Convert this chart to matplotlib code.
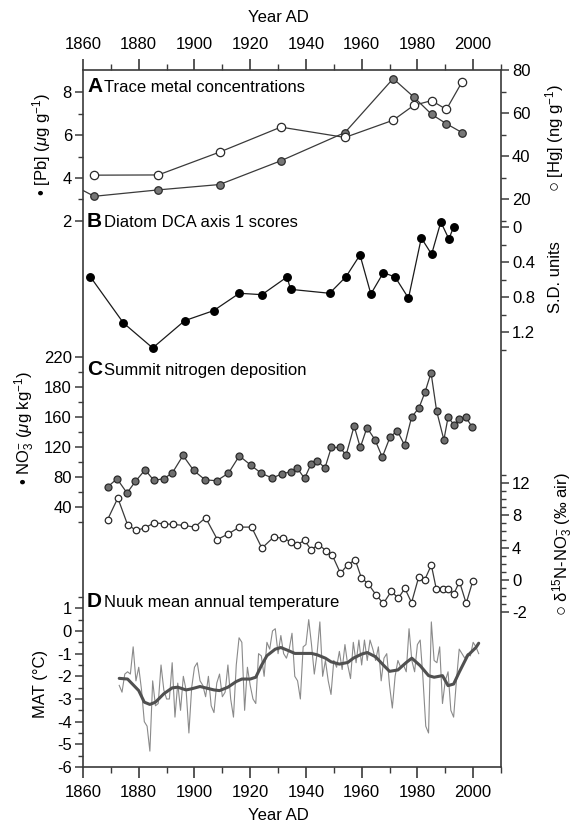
import numpy as np
import matplotlib
matplotlib.use('Agg')
import matplotlib.pyplot as plt

plt.rcParams['font.family'] = ['Liberation Sans', 'DejaVu Sans']
plt.rcParams['mathtext.fontset'] = 'custom'
plt.rcParams['mathtext.rm'] = 'Liberation Sans'
plt.rcParams['mathtext.it'] = 'Liberation Sans:italic'
plt.rcParams['mathtext.bf'] = 'Liberation Sans:bold'

# A: trace metals
pb_years = [1857, 1864, 1887, 1909, 1931, 1954, 1971.3, 1978.7, 1985.1, 1990.4, 1996]
pb_vals = [3.62, 3.14, 3.44, 3.69, 4.80, 6.12, 8.64, 7.78, 6.97, 6.53, 6.12]
hg_years = [1864, 1887, 1909, 1931, 1954, 1971.3, 1978.7, 1985.1, 1990.4, 1996]
hg_vals = [31.2, 31.3, 41.9, 53.5, 48.7, 56.7, 63.6, 65.8, 61.7, 74.4]

# B: diatom DCA axis 1
dca_years = [1862.6, 1874.5, 1885.0, 1896.5, 1906.9, 1916.1, 1924.2, 1933.2, 1934.5,
             1948.5, 1954.4, 1959.4, 1963.3, 1967.8, 1972.0, 1976.8, 1981.4, 1985.1,
             1988.4, 1991.3, 1993.0]
dca_vals = [0.564, 1.093, 1.379, 1.067, 0.952, 0.754, 0.770, 0.568, 0.709,
            0.754, 0.564, 0.316, 0.762, 0.518, 0.568, 0.810, 0.122, 0.308,
            -0.061, 0.134, -0.005]

# C: Summit nitrate and d15N
no3_years = [1868.8, 1872.2, 1875.8, 1878.8, 1882.3, 1885.4, 1888.9, 1892.0, 1895.9, 1899.7,
             1903.8, 1908.0, 1912.2, 1916.1, 1920.2, 1923.9, 1927.9, 1931.4, 1934.5, 1936.9,
             1939.5, 1941.8, 1944.1, 1946.8, 1949.1, 1952.3, 1954.4, 1957.3, 1959.5, 1961.9,
             1964.8, 1967.4, 1970.2, 1972.8, 1975.4, 1977.9, 1980.6, 1982.7, 1984.9, 1986.9,
             1989.5, 1991.0, 1993.2, 1995.0, 1997.4, 1999.7]
no3_vals = [66.7, 77.8, 58.7, 74.2, 89.8, 75.6, 77.8, 85.3, 108.9, 88.9,
            76.4, 75.1, 85.3, 108.4, 96.0, 85.3, 78.7, 84.4, 87.1, 92.0,
            78.2, 97.3, 102.2, 92.0, 119.6, 119.6, 109.3, 148.4, 119.6, 146.2,
            129.8, 106.7, 133.8, 141.8, 122.7, 160.0, 172.9, 193.3, 219.6, 168.4,
            129.8, 160.0, 149.8, 157.3, 160.0, 146.7]

d15n_years = [1868.8, 1872.5, 1876.0, 1879.1, 1882.3, 1885.6, 1888.9, 1892.2, 1896.2, 1900.1,
              1904.0, 1908.2, 1912.2, 1916.1, 1920.5, 1924.2, 1928.4, 1931.6, 1934.5, 1936.9,
              1939.5, 1941.9, 1944.4, 1947.2, 1949.4, 1952.4, 1955.0, 1957.7, 1959.9, 1962.3,
              1965.2, 1967.8, 1970.7, 1973.1, 1975.5, 1977.9, 1980.5, 1982.6, 1985.0, 1986.8,
              1989.2, 1991.0, 1993.1, 1995.1, 1997.5, 1999.9]
d15n_vals = [7.44, 10.12, 6.82, 6.12, 6.45, 7.07, 6.94, 6.86, 6.74, 6.53,
             7.69, 5.00, 5.70, 6.53, 6.53, 3.93, 5.29, 5.17, 4.75, 4.38,
             4.88, 3.72, 4.38, 3.64, 3.10, 0.83, 1.90, 2.48, 0.25, -0.45,
             -1.86, -2.89, -1.36, -2.27, -1.03, -2.80, 0.40, 0.00, 1.85, -1.15,
             -1.15, -1.15, -1.70, -0.20, -2.88, -0.10]

# D: Nuuk mean annual temperature
mat_years = list(range(1873, 2003))
mat_vals = [-2.4, -2.7, -1.9, -1.8, -1.9, -0.7, -2.2, -1.6, -2.6, -4.0,
            -4.2, -5.3, -2.2, -3.3, -3.2, -1.5, -2.6, -3.0, -3.0, -1.4,
            -3.8, -2.3, -3.5, -2.0, -2.6, -4.5, -2.5, -1.6, -1.4, -2.2,
            -2.4, -2.9, -2.0, -3.3, -3.6, -2.3, -1.9, -2.9, -2.7, -1.5,
            -3.0, -3.8, -1.5, -0.3, -0.5, -3.5, -1.6, -2.4, -3.0, -3.2,
            -1.0, -1.1, -2.0, -0.5, -0.8, 0.0, 0.1, -1.0, -0.2, -1.0,
            -1.2, -0.8, -0.1, -2.0, -2.2, -3.0, -0.7, -0.6, 0.5, -0.6,
            -1.9, -1.0, 0.4, -2.0, -1.3, -2.2, -2.8, -1.3, -1.6, -0.9,
            -1.7, -0.6, -1.5, -2.1, -0.5, -1.4, -0.4, -1.5, -0.4, -1.3,
            -0.4, -0.8, -1.3, -0.7, -2.2, -1.2, -1.0, -2.4, -3.4, -2.0,
            -1.3, -1.6, -1.5, -1.8, 0.1, -1.3, -1.8, -0.6, -0.4, -2.1,
            -4.2, -4.5, 0.4, -1.3, -1.4, -0.7, -3.2, -2.2, -1.8, -3.5,
            -3.8, -2.2, -0.8, -1.0, -1.2, -1.0, -1.1, -0.5, -0.7, -1.0]
smooth_years = [1873, 1876, 1880, 1882, 1884, 1886, 1889, 1892, 1894, 1897, 1899, 1902,
                1904, 1907, 1909, 1912, 1915, 1917, 1920, 1922, 1924, 1926, 1929, 1931,
                1934, 1936, 1939, 1942, 1944, 1947, 1949, 1952, 1955, 1957, 1960, 1962,
                1965, 1968, 1970, 1973, 1976, 1978, 1981, 1984, 1986, 1989, 1991, 1993,
                1995, 1998, 2001, 2002]
smooth_vals = [-2.09, -2.12, -2.63, -3.14, -3.24, -3.14, -2.77, -2.51, -2.48, -2.60, -2.55, -2.45,
               -2.51, -2.60, -2.63, -2.48, -2.23, -2.12, -2.12, -2.04, -1.53, -1.09, -0.80, -0.73,
               -0.88, -0.99, -0.99, -0.99, -1.05, -1.20, -1.36, -1.46, -1.39, -1.20, -1.02, -0.95,
               -1.14, -1.53, -1.78, -1.72, -1.39, -1.20, -1.53, -1.97, -2.04, -1.97, -2.41, -2.34,
               -1.82, -1.09, -0.73, -0.54]

W, H = 575, 825
AX_L, AX_R, AX_T, AX_B = 83, 501, 70, 767
EDGE = '#3a3a3a'

fig = plt.figure(figsize=(W / 100, H / 100), dpi=100)
ax = fig.add_axes([AX_L / W, 1 - AX_B / H, (AX_R - AX_L) / W, (AX_B - AX_T) / H])
ax.set_xlim(1860, 2010)
ax.set_ylim(0, 1)
ax.set_yticks([])
ax.set_xticks(np.arange(1860, 2001, 20))
ax.set_xticks(np.arange(1870, 2011, 10), minor=True)
ax.tick_params(axis='x', which='both', top=True, labeltop=True, direction='out',
               color=EDGE, labelsize=12, pad=5)
ax.tick_params(axis='x', which='major', length=8, width=1.2)
ax.tick_params(axis='x', which='minor', length=4, width=1.0)
for s in ax.spines.values():
    s.set_color(EDGE)
    s.set_linewidth(1.2)


def scale_axis(v0, y0, k, side, invert=False):
    # value v0 sits on pixel row y0, k pixels per unit
    tw = ax.twinx()
    sign = -1 if invert else 1
    top = v0 + sign * (y0 - AX_T) / k
    bot = v0 - sign * (AX_B - y0) / k
    tw.set_ylim(bot, top)
    if side == 'left':
        tw.yaxis.tick_left()
    for s in tw.spines.values():
        s.set_visible(False)
    tw.tick_params(axis='y', which='both', direction='out', color=EDGE, labelsize=12, pad=2)
    tw.tick_params(axis='y', which='major', length=6, width=1.1)
    tw.tick_params(axis='y', which='minor', length=3.5, width=1.0)
    return tw


def ticks(tw, major, labels, minor):
    tw.set_yticks(major)
    tw.set_yticklabels(labels)
    tw.set_yticks(minor, minor=True)


# A
a_pb = scale_axis(8, 92.3, 21.4, 'left')
ticks(a_pb, [2, 4, 6, 8], ['2', '4', '6', '8'], [3, 5, 7])
a_pb.plot(pb_years, pb_vals, '-o', color=EDGE, lw=0.9, ms=5.4,
          mfc='#777777', mec='#2a2a2a', mew=0.9)
a_hg = scale_axis(80, 70, 2.155, 'right')
ticks(a_hg, [20, 40, 60, 80], ['20', '40', '60', '80'], [10, 30, 50, 70])
a_hg.plot(hg_years, hg_vals, '-o', color=EDGE, lw=0.9, ms=6.0,
          mfc='white', mec='#2a2a2a', mew=0.9)

# B
b = scale_axis(0, 227.3, 87.5, 'right', invert=True)
ticks(b, [0, 0.4, 0.8, 1.2], ['0', '0.4', '0.8', '1.2'], [0.2, 0.6, 1.0, 1.4])
b.plot(dca_years, dca_vals, '-o', color='#1a1a1a', lw=0.9, ms=5.4,
       mfc='black', mec='black')

# C
c_no3 = scale_axis(160, 417.3, 0.7475, 'left')
ticks(c_no3, [40, 80, 120, 160, 200, 240], ['40', '80', '120', '160', '180', '220'],
      [20, 60, 100, 140, 180, 220])
c_no3.plot(no3_years, no3_vals, '-o', color=EDGE, lw=0.9, ms=5.0,
           mfc='#6e6e6e', mec='#2a2a2a', mew=0.9)
c_d15 = scale_axis(0, 580, 8.1, 'right')
ticks(c_d15, [-4, 0, 4, 8, 12], ['-2', '0', '4', '8', '12'],
      [v for v in range(-3, 14) if v % 4 != 0])
c_d15.plot(d15n_years, d15n_vals, '-o', color=EDGE, lw=0.9, ms=4.7,
           mfc='white', mec='#2a2a2a', mew=0.9)

# D
d = scale_axis(-6, 767, 22.67, 'left')
ticks(d, list(range(-6, 2)), [str(v) for v in range(-6, 2)],
      list(np.arange(-5.5, 1.6, 1.0)))
d.plot(mat_years, mat_vals, color='#8a8a8a', lw=0.8)
d.plot(smooth_years, smooth_vals, color='#505050', lw=2.2, solid_capstyle='round')


def ftext(x, y, s, **kw):
    fig.text(x / W, 1 - y / H, s, **kw)


# panel titles
for letter, title, base in [('A', 'Trace metal concentrations', 92),
                            ('B', 'Diatom DCA axis 1 scores', 227),
                            ('C', 'Summit nitrogen deposition', 375),
                            ('D', 'Nuuk mean annual temperature', 607)]:
    ftext(87, base, letter, fontsize=15, fontweight='bold', va='baseline')
    ftext(104, base, title, fontsize=12, va='baseline')

# axis titles
ftext(278, 17, 'Year AD', fontsize=12, ha='center', va='center')
ftext(278, 816, 'Year AD', fontsize=12, ha='center', va='center')
ftext(42, 145, '• [Pb] ($\\mu$g g$^{-1}$)', fontsize=12, rotation=90, ha='center', va='center')
ftext(555, 138, '○ [Hg] (ng g$^{-1}$)', fontsize=12, rotation=90, ha='center', va='center')
ftext(555, 277, 'S.D. units', fontsize=12, rotation=90, ha='center', va='center')
ftext(25, 428, '• NO$_3^{-}$ ($\\mu$g kg$^{-1}$)', fontsize=12, rotation=90, ha='center', va='center')
ftext(563, 544, '○ δ$^{15}$N-NO$_3^{-}$ (‰ air)', fontsize=12, rotation=90, ha='center', va='center')
ftext(41, 684, 'MAT (°C)', fontsize=12, rotation=90, ha='center', va='center')

fig.savefig('out.png', dpi=100)
